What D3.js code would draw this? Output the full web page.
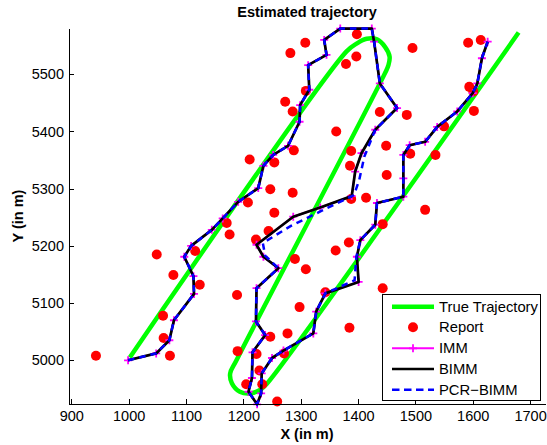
<!DOCTYPE html>
<html>
<meta charset="utf-8">
<head>
<title>Estimated trajectory</title>
<style>
body { margin: 0; background: #fff; }
svg { display: block; font-family: "Liberation Sans", Arial, sans-serif; }
.axis { font-family: "Liberation Sans", Arial, sans-serif; }
.axis path, .axis line { fill: none; stroke: #000; shape-rendering: crispEdges; }
.axis text { font-size: 14.5px; fill: #000; }
.lbl { font-size: 14.5px; font-weight: bold; fill: #000; }
.leg text { font-size: 14.8px; fill: #000; }
</style>
</head>
<body>
<script src="https://d3js.org/d3.v7.min.js"></script>
<script>

// true target path (x, y in m)
var truthPts = [
  [1002,5005],[1380,5540],[1398,5554],[1415,5562],[1433,5561],[1447,5548],[1455,5531],[1453,5516],[1447,5502],
  [1188,5000],[1177,4977],[1180,4960],[1194,4945],[1212,4942],[1229,4948],[1241,4959],[1680,5573]
];

// measurement reports
var reportPts = [
  [1398,5570],[1308,5555],[1282,5537],[1397,5531],[1379,5518],[1309,5471],[1273,5452],[1286,5435],[1438,5434],[1485,5429],
  [1362,5400],[1449,5375],[1288,5367],[1211,5351],[1254,5346],[1388,5366],[1386,5340],[1495,5546],[1592,5555],[1614,5560],
  [1594,5478],[1601,5470],[1602,5436],[1550,5409],[1491,5361],[1535,5359],[1450,5324],[1286,5293],[1388,5282],[1414,5284],
  [1517,5263],[1247,5299],[1208,5276],[1254,5258],[1171,5240],[1176,5220],[1244,5226],[1222,5211],[1049,5185],[1116,5191],
  [1078,5149],[1124,5132],[1189,5114],[1060,5078],[1061,5039],[1072,5008],[1190,5016],[1247,5041],[1277,5047],[1223,5011],
  [1271,5012],[1309,5159],[1343,5119],[1298,5093],[1385,5057],[1228,4982],[1205,4958],[1233,4958],[1259,4928],[1443,5238],
  [1384,5206],[1361,5192],[1290,5177],[1443,5126],[943,5008]
];

var immPts = [
  [999,5000],[1048,5012],[1071,5035],[1079,5070],[1114,5116],[1113,5147],[1097,5181],[1109,5200],[1145,5228],[1164,5248],
  [1191,5277],[1226,5301],[1235,5340],[1252,5359],[1278,5375],[1298,5417],[1299,5446],[1315,5473],[1313,5516],[1345,5534],
  [1341,5560],[1369,5580],[1424,5580],[1428,5557],[1438,5484],[1468,5441],[1430,5403],[1406,5362],[1395,5330],[1389,5287],
  [1334,5267],[1287,5251],[1223,5202],[1235,5181],[1261,5161],[1223,5126],[1222,5068],[1238,5044],[1216,5014],[1215,4969],
  [1209,4945],[1224,4923],[1231,4942],[1232,4977],[1250,5004],[1270,5017],[1322,5047],[1327,5085],[1343,5117],[1401,5137],
  [1398,5181],[1404,5210],[1430,5237],[1433,5275],[1479,5286],[1479,5318],[1479,5359],[1490,5376],[1517,5382],[1538,5408],
  [1573,5435],[1600,5467],[1608,5484],[1616,5528],[1626,5557]
];

var bimmPts = [
  [999,5000],[1048,5012],[1071,5035],[1079,5070],[1114,5116],[1113,5147],[1097,5181],[1109,5200],[1145,5228],[1164,5248],
  [1191,5277],[1226,5301],[1235,5340],[1252,5359],[1278,5375],[1298,5417],[1299,5446],[1315,5473],[1313,5516],[1345,5534],
  [1341,5560],[1369,5580],[1424,5580],[1428,5557],[1438,5484],[1468,5441],[1430,5403],[1406,5362],[1395,5330],[1389,5287],
  [1334,5267],[1287,5251],[1223,5202],[1235,5181],[1261,5161],[1223,5126],[1222,5068],[1238,5044],[1216,5014],[1215,4969],
  [1209,4945],[1224,4923],[1231,4942],[1232,4977],[1250,5004],[1270,5017],[1322,5047],[1327,5085],[1343,5117],[1401,5137],
  [1398,5181],[1404,5210],[1430,5237],[1433,5275],[1479,5286],[1479,5318],[1479,5359],[1490,5376],[1517,5382],[1538,5408],
  [1573,5435],[1600,5467],[1608,5484],[1616,5528],[1626,5557]
];

var pcrPts = [
  [999,5000],[1048,5012],[1071,5035],[1079,5070],[1114,5116],[1113,5147],[1097,5181],[1109,5200],[1145,5228],[1164,5248],
  [1191,5277],[1226,5301],[1235,5340],[1252,5359],[1278,5375],[1298,5417],[1299,5446],[1315,5473],[1313,5516],[1345,5534],
  [1341,5560],[1369,5580],[1424,5580],[1428,5557],[1438,5484],[1468,5441],[1430,5403],[1411,5356],[1402,5315],[1393,5289],
  [1336,5261],[1283,5235],[1234,5205],[1238,5183],[1261,5161],[1223,5126],[1222,5068],[1238,5044],[1216,5014],[1215,4969],
  [1209,4945],[1224,4923],[1231,4942],[1232,4977],[1250,5004],[1270,5017],[1322,5047],[1327,5085],[1343,5117],[1394,5140],
  [1397,5181],[1404,5210],[1430,5237],[1433,5275],[1479,5286],[1479,5318],[1479,5359],[1490,5376],[1517,5382],[1538,5408],
  [1573,5435],[1600,5467],[1608,5484],[1616,5528],[1626,5557]
];

var xTicks = [900,1000,1100,1200,1300,1400,1500,1600,1700];
var yTicks = [5000,5100,5200,5300,5400,5500];
var legendNames = ["True Trajectory", "Report", "IMM", "BIMM", "PCR\u2212BIMM"];

var width = 547, height = 445;

var x = d3.scaleLinear().domain([896, 1726]).range([69, 545]);
var y = d3.scaleLinear().domain([4922.7, 5580.4]).range([404.5, 28.3]);

var svg = d3.select("body").append("svg")
    .attr("width", width)
    .attr("height", height);

svg.append("rect").attr("width", width).attr("height", height).attr("fill", "#fff");

var line = d3.line().x(function(d) { return x(d[0]); }).y(function(d) { return y(d[1]); });
var smooth = d3.line().curve(d3.curveCatmullRom.alpha(0.5))
    .x(function(d) { return x(d[0]); }).y(function(d) { return y(d[1]); });

// true trajectory
svg.append("path").datum(truthPts)
    .attr("d", smooth)
    .attr("fill", "none").attr("stroke", "#00ff00").attr("stroke-width", 4.5)
    .attr("stroke-linejoin", "round");

// reports
svg.selectAll("circle.rep")
    .data(reportPts)
  .enter().append("circle")
    .attr("class", "rep")
    .attr("cx", function(d) { return x(d[0]); })
    .attr("cy", function(d) { return y(d[1]); })
    .attr("r", 5)
    .attr("fill", "#ff0000");

var plus = "M-4,0H4M0,-4V4";

// IMM
svg.append("path").datum(immPts)
    .attr("d", line)
    .attr("fill", "none").attr("stroke", "#ff00ff").attr("stroke-width", 2);
svg.selectAll("path.imm")
    .data(immPts)
  .enter().append("path")
    .attr("class", "imm")
    .attr("d", plus)
    .attr("transform", function(d) { return "translate(" + x(d[0]) + "," + y(d[1]) + ")"; })
    .attr("stroke", "#ff00ff").attr("stroke-width", 1.8);

// BIMM
svg.append("path").datum(bimmPts)
    .attr("d", line)
    .attr("fill", "none").attr("stroke", "#000").attr("stroke-width", 2.7)
    .attr("stroke-linejoin", "round");

// PCR-BIMM
svg.append("path").datum(pcrPts)
    .attr("d", line)
    .attr("fill", "none").attr("stroke", "#0000ff").attr("stroke-width", 2.5)
    .attr("stroke-dasharray", "6.5,5");

// axes
svg.append("g")
    .attr("class", "axis")
    .attr("transform", "translate(0,404)")
    .call(d3.axisBottom(x).tickValues(xTicks).tickFormat(d3.format("d"))
      .tickSizeInner(-5).tickSizeOuter(0).tickPadding(7));

svg.append("g")
    .attr("class", "axis")
    .attr("transform", "translate(69,0)")
    .call(d3.axisLeft(y).tickValues(yTicks).tickFormat(d3.format("d"))
      .tickSizeInner(-5).tickSizeOuter(0).tickPadding(5));

// title and labels
svg.append("text").attr("class", "lbl")
    .attr("x", 307).attr("y", 17)
    .attr("text-anchor", "middle")
    .text("Estimated trajectory");

svg.append("text").attr("class", "lbl")
    .attr("x", 307).attr("y", 439)
    .attr("text-anchor", "middle")
    .text("X (in m)");

svg.append("text").attr("class", "lbl")
    .attr("transform", "translate(23,216) rotate(-90)")
    .attr("text-anchor", "middle")
    .text("Y (in m)");

// legend
var leg = svg.append("g").attr("class", "leg");
leg.append("rect")
    .attr("x", 382.5).attr("y", 294.5).attr("width", 158).attr("height", 106)
    .attr("fill", "#fff").attr("stroke", "#000").attr("stroke-width", 1);

var rowY = [306.7, 327.3, 348.3, 369, 389.7];
var x1 = 392, x2 = 434, xm = 413;

leg.append("line").attr("x1", x1).attr("x2", x2).attr("y1", rowY[0]).attr("y2", rowY[0])
    .attr("stroke", "#00ff00").attr("stroke-width", 4.5);
leg.append("circle").attr("cx", xm).attr("cy", rowY[1]).attr("r", 5).attr("fill", "#ff0000");
leg.append("line").attr("x1", x1).attr("x2", x2).attr("y1", rowY[2]).attr("y2", rowY[2])
    .attr("stroke", "#ff00ff").attr("stroke-width", 2);
leg.append("path").attr("d", plus).attr("transform", "translate(" + xm + "," + rowY[2] + ")")
    .attr("stroke", "#ff00ff").attr("stroke-width", 1.8);
leg.append("line").attr("x1", x1).attr("x2", x2).attr("y1", rowY[3]).attr("y2", rowY[3])
    .attr("stroke", "#000").attr("stroke-width", 2.7);
leg.append("line").attr("x1", x1).attr("x2", x2).attr("y1", rowY[4]).attr("y2", rowY[4])
    .attr("stroke", "#0000ff").attr("stroke-width", 2.5).attr("stroke-dasharray", "7.5,4.5");

leg.selectAll("text.name")
    .data(legendNames)
  .enter().append("text")
    .attr("class", "name")
    .attr("x", 439)
    .attr("y", function(d, i) { return rowY[i]; })
    .attr("dy", "0.35em")
    .text(function(d) { return d; });

</script>
</body>
</html>
